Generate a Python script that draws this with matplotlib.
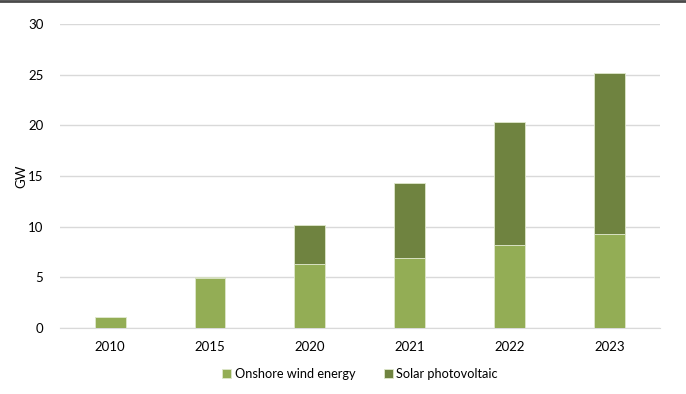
import matplotlib
matplotlib.use("Agg")
import matplotlib.pyplot as plt
from matplotlib.lines import Line2D

plt.rcParams["font.family"] = ["Lato", "DejaVu Sans"]

years = ["2010", "2015", "2020", "2021", "2022", "2023"]
onshore_wind = [1.05, 4.9, 6.3, 6.95, 8.15, 9.25]
solar_pv = [0.0, 0.1, 3.9, 7.35, 12.15, 15.9]

ONSHORE_COLOR = "#93ad55"
SOLAR_COLOR = "#6f8340"

fig = plt.figure(figsize=(6.86, 3.94), dpi=100)
ax = fig.add_axes([0.0875, 0.1675, 0.8745, 0.7715])

x = range(len(years))
ax.bar(x, onshore_wind, width=0.31, color=ONSHORE_COLOR, edgecolor="#dfe8cc",
       linewidth=0.6, label="Onshore wind energy", zorder=3)
ax.bar(x, solar_pv, width=0.31, bottom=onshore_wind, color=SOLAR_COLOR,
       edgecolor="#dfe8cc", linewidth=0.6, label="Solar photovoltaic", zorder=3)

ax.set_xlim(-0.5, len(years) - 0.5)
ax.set_ylim(0, 30)
ax.set_yticks(range(0, 31, 5))
ax.set_xticks(list(x))
ax.set_xticklabels(years)
ax.set_ylabel("GW", fontsize=9.5)
ax.yaxis.set_label_coords(-0.055, 0.5)

ax.grid(axis="y", color="#d9d9d9", linewidth=1.0, zorder=0)
for side in ["top", "right", "left"]:
    ax.spines[side].set_visible(False)
ax.spines["bottom"].set_color("#d9d9d9")
ax.tick_params(axis="both", length=0, labelsize=9.5, colors="#000000")
ax.tick_params(axis="x", pad=9)
ax.tick_params(axis="y", pad=12)

ax.legend(loc="upper center", bbox_to_anchor=(0.5, -0.095), ncol=2,
          frameon=False, fontsize=9.2, handlelength=0.7, handleheight=0.7,
          columnspacing=2.2, handletextpad=0.3)

fig.add_artist(Line2D([0, 1], [0.998, 0.998], transform=fig.transFigure,
                      color="#4a4a4a", linewidth=2))

fig.savefig("out.png", dpi=100)
